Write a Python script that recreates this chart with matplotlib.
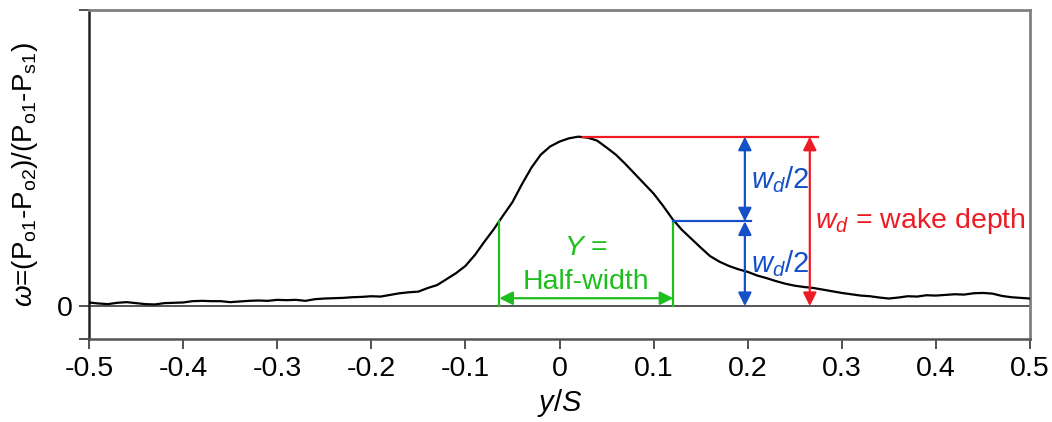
import numpy as np
import matplotlib
matplotlib.use("Agg")
import matplotlib.pyplot as plt

plt.rcParams['font.family'] = ['Liberation Sans', 'DejaVu Sans']
plt.rcParams['mathtext.fontset'] = 'custom'
plt.rcParams['mathtext.rm'] = 'Liberation Sans'
plt.rcParams['mathtext.it'] = 'Liberation Sans:italic'
plt.rcParams['mathtext.bf'] = 'Liberation Sans:bold'

# Data
y_over_s = np.round(np.arange(-0.50, 0.5001, 0.01), 2)
omega = [0.011, 0.008, 0.006, 0.010, 0.012, 0.009, 0.006, 0.005, 0.009, 0.010,
         0.011, 0.015, 0.016, 0.015, 0.015, 0.012, 0.014, 0.016, 0.017, 0.016,
         0.019, 0.018, 0.019, 0.016, 0.021, 0.023, 0.024, 0.025, 0.027, 0.028,
         0.030, 0.029, 0.034, 0.039, 0.042, 0.044, 0.055, 0.064, 0.082, 0.100,
         0.122, 0.155, 0.195, 0.233, 0.275, 0.316, 0.370, 0.420, 0.460, 0.485,
         0.500, 0.510, 0.515, 0.512, 0.503, 0.482, 0.460, 0.432, 0.402, 0.372,
         0.342, 0.305, 0.265, 0.232, 0.205, 0.178, 0.152, 0.135, 0.122, 0.112,
         0.104, 0.093, 0.085, 0.076, 0.068, 0.062, 0.058, 0.055, 0.050, 0.045,
         0.040, 0.036, 0.032, 0.030, 0.026, 0.023, 0.026, 0.030, 0.029, 0.033,
         0.032, 0.034, 0.036, 0.035, 0.039, 0.040, 0.038, 0.031, 0.027, 0.025,
         0.023]

x_ticks = [-0.5, -0.4, -0.3, -0.2, -0.1, 0, 0.1, 0.2, 0.3, 0.4, 0.5]
x_tick_labels = ['-0.5', '-0.4', '-0.3', '-0.2', '-0.1', '0', '0.1', '0.2', '0.3', '0.4', '0.5']

# Annotation geometry
peak_x = 0.025
wake_depth = 0.515
half_left = -0.064
half_right = 0.121
blue_x = 0.197
red_x = 0.266
green_arrow_y = 0.024

GREEN = '#1cbf1c'
BLUE = '#1450c8'
RED = '#ec1c24'

fig = plt.figure(figsize=(10.52, 4.22), dpi=100)
ax = fig.add_axes([89/1052, 1-339/422, (1030-89)/1052, (339-10)/422])

ax.plot(y_over_s, omega, color='black', lw=1.6, zorder=3)
ax.axhline(0, color='#555555', lw=1.4, zorder=2)

ax.set_xlim(-0.5, 0.5)
ax.set_ylim(-0.1, 0.9)
ax.set_xticks(x_ticks)
ax.set_xticklabels(x_tick_labels, fontsize=20.5)
ax.set_yticks([-0.1, 0, 0.9])
ax.set_yticklabels(['', '0', ''], fontsize=20.5)
ax.tick_params(axis='both', direction='out', length=7, width=1.2, color='#333333', pad=5)

for s in ['top', 'right']:
    ax.spines[s].set_color('#808080')
    ax.spines[s].set_linewidth(2)
ax.spines['left'].set_color('#222222')
ax.spines['left'].set_linewidth(1.8)
ax.spines['bottom'].set_color('#555555')
ax.spines['bottom'].set_linewidth(1.8)

ax.set_xlabel('$y/S$', fontsize=21, labelpad=4)
ax.set_ylabel(r'$\omega$=(P$_{\rm o1}$-P$_{\rm o2}$)/(P$_{\rm o1}$-P$_{\rm s1}$)',
              fontsize=20, labelpad=12)

half = wake_depth / 2

def dbl_arrow(x0, y0, x1, y1, color):
    ax.annotate('', xy=(x1, y1), xytext=(x0, y0),
                arrowprops=dict(arrowstyle='<|-|>', color=color, lw=1.6,
                                mutation_scale=20, shrinkA=0, shrinkB=0),
                zorder=4)

# Green half-width
ax.plot([half_left, half_left], [0, half], color=GREEN, lw=1.6, zorder=4)
ax.plot([half_right, half_right], [0, half], color=GREEN, lw=1.6, zorder=4)
dbl_arrow(half_left, green_arrow_y, half_right, green_arrow_y, GREEN)
ax.text((half_left + half_right) / 2, 0.178, '$Y$ =', color=GREEN, fontsize=20.5,
        ha='center', va='center')
ax.text((half_left + half_right) / 2, 0.072, 'Half-width', color=GREEN, fontsize=20.5,
        ha='center', va='center')

# Blue half depth
ax.plot([half_right, 0.203], [half, half], color=BLUE, lw=1.6, zorder=4)
dbl_arrow(blue_x, half, blue_x, wake_depth, BLUE)
dbl_arrow(blue_x, 0, blue_x, half, BLUE)
ax.text(0.2035, 0.385, '$w_d$/2', color=BLUE, fontsize=21, ha='left', va='center')
ax.text(0.2035, 0.128, '$w_d$/2', color=BLUE, fontsize=21, ha='left', va='center')

# Red wake depth
ax.plot([peak_x, 0.275], [wake_depth, wake_depth], color=RED, lw=1.6, zorder=4)
dbl_arrow(red_x, 0, red_x, wake_depth, RED)
ax.text(0.272, 0.26, '$w_d$ = wake depth', color=RED, fontsize=20.5, ha='left', va='center')

fig.savefig('out.png', dpi=100)
